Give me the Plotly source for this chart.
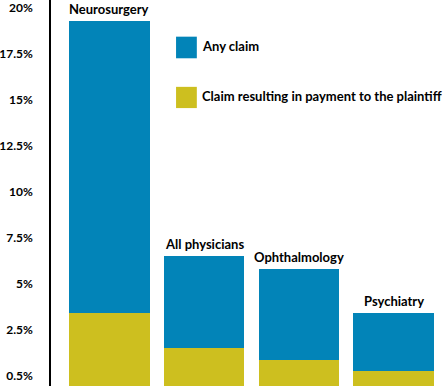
import plotly.graph_objects as go

categories = ["Neurosurgery", "All physicians", "Ophthalmology", "Psychiatry"]
any_claim = [19.3, 6.5, 5.8, 3.45]
paid_claim = [3.45, 1.5, 0.85, 0.3]
tick_vals = [0, 2.5, 5, 7.5, 10, 12.5, 15, 17.5, 20]
tick_text = ["0.5%", "2.5%", "5%", "7.5%", "10%", "12.5%", "15%", "17.5%", "20%"]
legend_names = ["Any claim", "Claim resulting in payment to the plaintiff"]

BLUE = "#0284b8"
YELLOW = "#cdbf1f"
FONT = "Lato"
Y_FLOOR = -0.54
Y_TOP = 20.43

x = list(range(len(categories)))

fig = go.Figure()
fig.add_trace(go.Bar(x=x, y=[v - Y_FLOOR for v in any_claim], base=Y_FLOOR, width=0.85,
                     marker=dict(color=BLUE, line=dict(width=0)),
                     name=legend_names[0], showlegend=False))
fig.add_trace(go.Bar(x=x, y=[v - Y_FLOOR for v in paid_claim], base=Y_FLOOR, width=0.85,
                     marker=dict(color=YELLOW, line=dict(width=0)),
                     name=legend_names[1], showlegend=False))

for xi, cat, v in zip(x, categories, any_claim):
    fig.add_annotation(x=xi, y=v, text="<b>" + cat + "</b>", showarrow=False,
                       xanchor="center", yanchor="bottom", yshift=2,
                       font=dict(family=FONT, size=13, color="black"))

# legend swatches
swatches = [(BLUE, 0.905, 0.849), (YELLOW, 0.775, 0.72)]
for (col, y1, y0), name in zip(swatches, legend_names):
    fig.add_shape(type="rect", xref="paper", yref="paper", x0=0.319, x1=0.372, y0=y0, y1=y1,
                  fillcolor=col, line=dict(width=0))
    fig.add_annotation(xref="paper", yref="paper", x=0.381, y=(y0 + y1) / 2 + 0.004,
                       text="<b>" + name + "</b>", showarrow=False, xanchor="left", yanchor="middle",
                       font=dict(family=FONT, size=13, color="black"))

fig.update_layout(
    width=443, height=386,
    margin=dict(l=51, r=0, t=0, b=0, autoexpand=False),
    barmode="overlay",
    plot_bgcolor="white", paper_bgcolor="white",
    bargap=0,
    font=dict(family=FONT, color="black"),
)
fig.update_xaxes(range=[-0.616, 3.52], showticklabels=False, showgrid=False, zeroline=False,
                 showline=False, ticks="", automargin=False)
fig.update_yaxes(range=[Y_FLOOR, Y_TOP], tickvals=tick_vals, ticktext=["<b>" + t + "</b>" for t in tick_text],
                 showgrid=False, zeroline=False, showline=True, linecolor="black", linewidth=1.5,
                 ticks="", ticklabelstandoff=14, automargin=False, ticklabeloverflow="allow",
                 tickfont=dict(family=FONT, size=12, color="black"))

fig.write_html("out.html", config={"displayModeBar": False},
               post_script="document.body.style.margin='0';document.documentElement.style.overflow='hidden';")
